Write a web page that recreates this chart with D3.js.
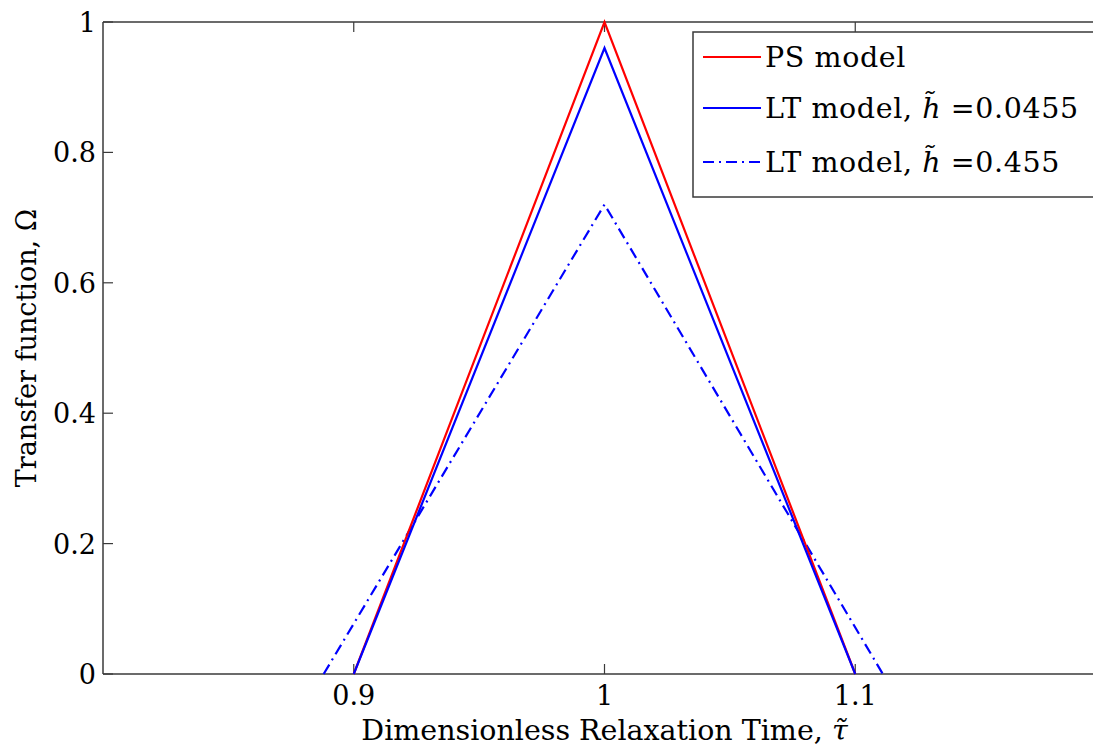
<!DOCTYPE html>
<html>
<head>
<meta charset="utf-8">
<script src="https://cdn.jsdelivr.net/npm/d3@7"></script>
<style>
  body { margin: 0; background: #fff; }
  text { font-family: "DejaVu Serif", "Liberation Serif", serif; fill: #000; }
</style>
</head>
<body>
<div id="chart"></div>
<script>
// data
var psTau = [0.9, 1, 1.1];
var psOmega = [0, 1, 0];
var ltTau = [0.9, 1, 1.1];
var ltOmega = [0, 0.96, 0];
var lt2Tau = [0.888, 1, 1.111];
var lt2Omega = [0, 0.72, 0];
var xTicks = [0.9, 1, 1.1];
var yTicks = [0, 0.2, 0.4, 0.6, 0.8, 1];

var svgWidth = 1093;
var svgHeight = 751;
var margin = { top: 22, left: 103 };
var plotW = 1003;   // right edge runs past the frame
var plotH = 652;

var svg = d3.select("#chart").append("svg")
  .attr("width", svgWidth)
  .attr("height", svgHeight);

var x = d3.scaleLinear().domain([0.8, 1.2]).range([margin.left, margin.left + plotW]);
var y = d3.scaleLinear().domain([0, 1]).range([margin.top + plotH, margin.top]);

var axisColor = "#3a3a3a";

// frame lines (left, bottom, top)
svg.append("line").attr("x1", x(0.8)).attr("x2", x(1.2)).attr("y1", y(0)).attr("y2", y(0))
  .attr("stroke", axisColor).attr("stroke-width", 1.5);
svg.append("line").attr("x1", x(0.8)).attr("x2", x(1.2)).attr("y1", y(1)).attr("y2", y(1))
  .attr("stroke", axisColor).attr("stroke-width", 1.5);
svg.append("line").attr("x1", x(0.8)).attr("x2", x(0.8)).attr("y1", y(0)).attr("y2", y(1))
  .attr("stroke", axisColor).attr("stroke-width", 1.5);

// inward ticks
var tickLen = 10;
svg.selectAll(".xt").data(xTicks).enter().append("line")
  .attr("x1", d => x(d)).attr("x2", d => x(d))
  .attr("y1", y(0)).attr("y2", y(0) - tickLen)
  .attr("stroke", axisColor).attr("stroke-width", 1.2);
svg.selectAll(".xtt").data(xTicks).enter().append("line")
  .attr("x1", d => x(d)).attr("x2", d => x(d))
  .attr("y1", y(1)).attr("y2", y(1) + tickLen)
  .attr("stroke", axisColor).attr("stroke-width", 1.2);
svg.selectAll(".yt").data(yTicks).enter().append("line")
  .attr("x1", x(0.8)).attr("x2", x(0.8) + tickLen)
  .attr("y1", d => y(d)).attr("y2", d => y(d))
  .attr("stroke", axisColor).attr("stroke-width", 1.2);

// tick labels
svg.selectAll(".xl").data(xTicks).enter().append("text")
  .attr("x", d => x(d)).attr("y", y(0) + 31)
  .attr("text-anchor", "middle")
  .style("font-size", "27px")
  .text(d => d3.format("")(d));
svg.selectAll(".yl").data(yTicks).enter().append("text")
  .attr("x", x(0.8) - 7).attr("y", d => y(d) + 10)
  .attr("text-anchor", "end")
  .style("font-size", "27px")
  .text(d => d3.format("")(d));

// lines
var line = d3.line().x(d => x(d[0])).y(d => y(d[1]));
function pairs(t, o) { return t.map((v, i) => [v, o[i]]); }

svg.append("path").datum(pairs(lt2Tau, lt2Omega))
  .attr("d", line).attr("fill", "none")
  .attr("stroke", "#0000ff").attr("stroke-width", 2.2)
  .attr("stroke-dasharray", "11,5,2,5");
svg.append("path").datum(pairs(psTau, psOmega))
  .attr("d", line).attr("fill", "none")
  .attr("stroke", "#ff0000").attr("stroke-width", 2.2);
svg.append("path").datum(pairs(ltTau, ltOmega))
  .attr("d", line).attr("fill", "none")
  .attr("stroke", "#0000ff").attr("stroke-width", 2.2);

// axis titles
var xt = svg.append("text")
  .attr("x", x(1)).attr("y", 740)
  .attr("text-anchor", "middle")
  .style("font-size", "28.5px");
xt.append("tspan").text("Dimensionless Relaxation Time, ");
xt.append("tspan").style("font-style", "italic").text("τ\u0303");

svg.append("text")
  .attr("transform", `translate(36, ${y(0.5)}) rotate(-90)`)
  .attr("text-anchor", "middle")
  .style("font-size", "27px")
  .text("Transfer function, Ω");

// legend
var legend = svg.append("g");
legend.append("rect")
  .attr("x", 693).attr("y", 32).attr("width", 420).attr("height", 165)
  .attr("fill", "#fff").attr("stroke", axisColor).attr("stroke-width", 1.5);

var legendItems = [
  { label: "PS model", h: null, color: "#ff0000", dash: null },
  { label: "LT model, ", h: "=0.0455", color: "#0000ff", dash: null },
  { label: "LT model, ", h: "=0.455", color: "#0000ff", dash: "11,5,2,5" }
];
var legendY = [57, 108, 162];

legendItems.forEach(function(item, i) {
  var ly = legendY[i];
  legend.append("line")
    .attr("x1", 703).attr("x2", 761).attr("y1", ly).attr("y2", ly)
    .attr("stroke", item.color).attr("stroke-width", 2.2)
    .attr("stroke-dasharray", item.dash);
  var t = legend.append("text")
    .attr("x", 765).attr("y", ly + 10)
    .style("font-size", "28.5px")
    .style("letter-spacing", "0.6px");
  t.append("tspan").text(item.label);
  if (item.h) {
    t.append("tspan").style("font-style", "italic").text("h\u0303");
    t.append("tspan").text(" " + item.h);
  }
});
</script>
</body>
</html>
